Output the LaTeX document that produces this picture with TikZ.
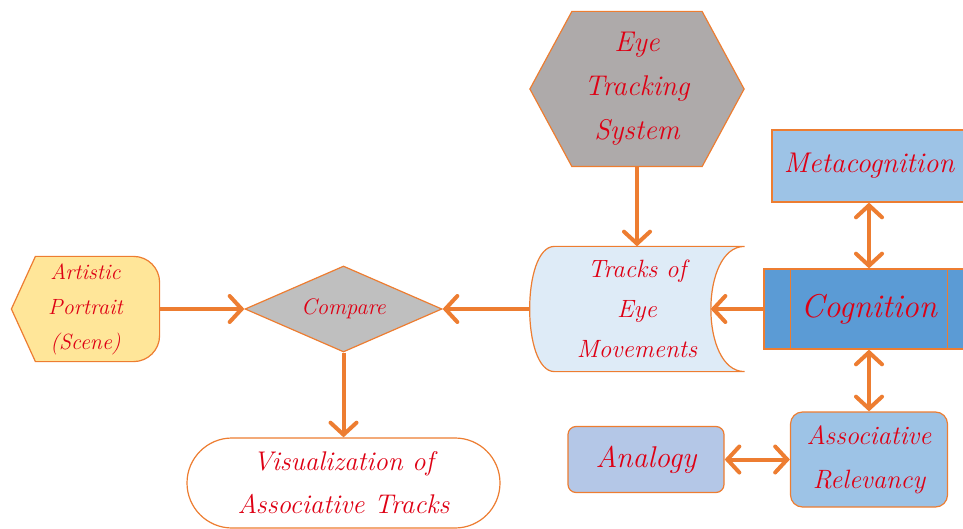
\documentclass[tikz,border=0pt]{standalone}
\usetikzlibrary{shapes.geometric,arrows.meta,backgrounds}
\definecolor{arr}{RGB}{237,125,49}
\definecolor{txt}{RGB}{222,0,20}
\definecolor{hexgray}{RGB}{174,170,170}
\definecolor{cmpgray}{RGB}{191,191,191}
\definecolor{trkfill}{RGB}{222,235,247}
\definecolor{lblue}{RGB}{157,195,230}
\definecolor{cogblue}{RGB}{91,155,213}
\definecolor{anablue}{RGB}{180,199,231}
\definecolor{prtyel}{RGB}{255,230,153}
\begin{document}
\begin{tikzpicture}[x=1pt,y=-1pt,
  box/.style={draw=arr,line width=1.2pt,inner sep=0pt,text=txt,align=center},
  link/.style={draw=arr,line width=4pt,-{Straight Barb[length=12pt,width=26pt,line cap=round]}},
  both/.style={link,{Straight Barb[length=12pt,width=26pt,line cap=round]}-{Straight Barb[length=12pt,width=26pt,line cap=round]}}]
\useasboundingbox (0,0) rectangle (963,529);
\node [box,draw=none,minimum width=213pt,minimum height=154pt,font=\fontsize{28.5}{44}\selectfont\itshape] (eye) at (637,89) {Eye\\Tracking\\System};
\node [box,draw=none,minimum width=214pt,minimum height=124pt,font=\fontsize{25}{40}\selectfont\itshape] (trk) at (637,309) {Tracks of\\Eye\\Movements};
\coordinate (trkin) at ([xshift=-34pt]trk.east);
\node [box,draw=none,minimum width=147pt,minimum height=104pt,font=\fontsize{22}{35}\selectfont\itshape] (prt) at (85.5,309) {Artistic\\Portrait\\(Scene)};
\node [box,shape=diamond,aspect=2.3,fill=cmpgray,minimum width=197pt,minimum height=86pt,font=\fontsize{22.5}{26}\selectfont\itshape] (cmp) at (343.5,309) {Compare};
\node [box,fill=white,rounded corners=45pt,minimum width=313pt,minimum height=90pt,font=\fontsize{27}{43}\selectfont\itshape] (vis) at (343.5,483) {Visualization of\\Associative Tracks};
\node [box,fill=lblue,minimum width=194pt,minimum height=72pt,font=\fontsize{28.5}{32}\selectfont\itshape] (meta) at (869,166) {Metacognition};
\node [box,fill=cogblue,minimum width=210pt,minimum height=80pt,font=\fontsize{33}{38}\selectfont\itshape] (cog) at (869,309) {Cognition};
\node [box,fill=anablue,rounded corners=8pt,minimum width=156pt,minimum height=66pt,font=\fontsize{30}{34}\selectfont\itshape] (ana) at (646,459.5) {Analogy};
\node [box,fill=lblue,rounded corners=12pt,minimum width=157pt,minimum height=95pt,font=\fontsize{26.5}{44}\selectfont\itshape] (rel) at (869,459.5) {Associative\\Relevancy};
\draw [arr,line width=1.2pt] ([xshift=27pt]cog.north west) -- ([xshift=27pt]cog.south west);
\draw [arr,line width=1.2pt] ([xshift=-27pt]cog.north east) -- ([xshift=-27pt]cog.south east);
\begin{scope}[on background layer]
\draw [arr,line width=1.2pt,fill=hexgray] (eye.west) -- ([xshift=42pt]eye.north west) -- ([xshift=-42pt]eye.north east) -- (eye.east) -- ([xshift=-42pt]eye.south east) -- ([xshift=42pt]eye.south west) -- cycle;
\draw [arr,line width=1.2pt,fill=trkfill] ([xshift=25pt]trk.north west) -- (trk.north east) .. controls ([xshift=-45pt]trk.north east) and ([xshift=-45pt]trk.south east) .. (trk.south east) -- ([xshift=25pt]trk.south west) .. controls ([xshift=-8pt]trk.south west) and ([xshift=-8pt]trk.north west) .. cycle;
\draw [arr,line width=1.2pt,fill=prtyel] (prt.west) -- ([xshift=24pt]prt.north west) [rounded corners=26pt] -- (prt.north east) -- (prt.south east) [sharp corners] -- ([xshift=24pt]prt.south west) -- cycle;
\end{scope}
\draw [link] (eye.south) -- (trk.north);
\draw [link] (cog.west) -- (trkin);
\draw [link] (trk.west) -- (cmp.east);
\draw [link] (prt.east) -- (cmp.west);
\draw [link] (cmp.south) -- (vis.north);
\draw [both] (meta.south) -- (cog.north);
\draw [both] (cog.south) -- (rel.north);
\draw [both] (ana.east) -- (rel.west);
\end{tikzpicture}
\end{document}
